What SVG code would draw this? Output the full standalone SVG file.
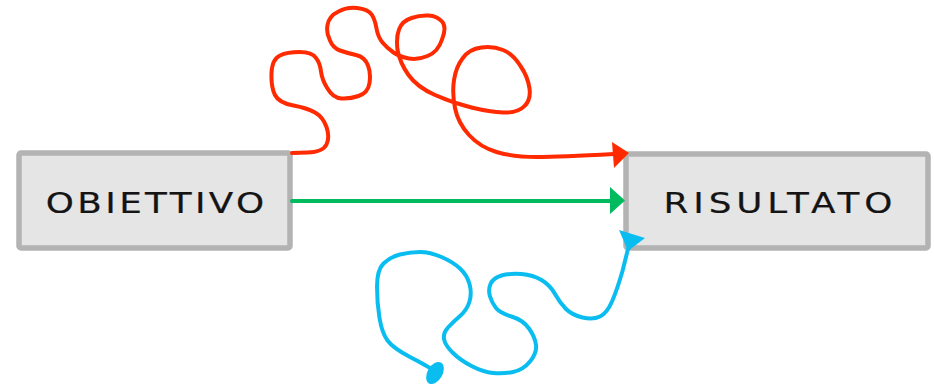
<svg xmlns="http://www.w3.org/2000/svg" width="934" height="386" viewBox="0 0 934 386">
<style>
.box{fill:#e5e5e5;stroke:#b3b3b3;stroke-width:5.5}
.lbl{font-family:"DejaVu Sans","Liberation Sans",sans-serif;font-size:27.5px;fill:#141414;stroke:#141414;stroke-width:0.2;text-anchor:middle}
.c{fill:none;stroke-width:4;stroke-linecap:round;stroke-linejoin:round}
</style>
<rect width="934" height="386" fill="#ffffff"/>
<g id="obiettivo">
<rect class="box" x="19" y="153" width="271" height="95" rx="2"/>
<text class="lbl" transform="translate(155,213) scale(1.3,1)" x="0" y="0" textLength="168" lengthAdjust="spacing">OBIETTIVO</text>
</g>
<g id="risultato">
<rect class="box" x="626" y="154" width="302" height="94" rx="2"/>
<text class="lbl" transform="translate(778,213) scale(1.3,1)" x="0" y="0" textLength="176" lengthAdjust="spacing">RISULTATO</text>
</g>
<g id="connectors">
<path class="c" stroke="#ff2a00" d="M292,153 L307.5,152.5 Q323,152 326.5,144.5 Q330,137 326.5,127 Q323,117 315,112.5 Q307,108 293.5,105.5 Q279,103 275,95 Q271,87 271.5,73.5 Q272,59 280,55.5 Q287,52 299.5,52 Q312,52 316,58 Q320,63 321,71.5 Q322,80 327.5,88.5 Q333,98 341.5,98.5 Q350,99 358.5,96 Q368,93 369.5,83 Q371,73 368,65.5 Q365,57 356,55 Q347,53 340,50.5 Q333,48 330,40.5 Q326,33 327.5,25 Q329,16 338.5,11.5 Q347,7 357,8 Q368,9 372,15 Q375,20 376.5,28.5 Q378,37 382.5,42.5 Q387,48 393.5,52.5 Q400,57 409,58.5 Q418,60 427.5,56 Q438,52 442,39.5 Q447,27 442,21.5 Q437,16 428.5,15.5 Q420,15 411.5,18 Q402,21 399,29.5 Q396,37 397.5,50 Q400,63 408.5,75 Q417,87 435,95 Q453,103 471.5,107.5 Q490,112 503.5,112.5 Q518,113 524.5,106 Q531,100 529.5,88.5 Q528,77 520.5,66 Q513,54 503,50 Q493,46 481.5,47.5 Q469,49 462.5,58.5 Q456,67 454,80 Q452,93 455,108 Q458,123 469,135 Q480,147 496.5,152 Q513,157 536.5,157 Q560,157 614,154"/>
<polygon fill="#ff2a00" points="612,142 629,153 614,168"/>
<line class="c" stroke="#00ba5e" stroke-width="3.5" x1="292" y1="201" x2="612" y2="201"/>
<polygon fill="#00ba5e" points="610,187 625,200.5 610,214"/>
<path class="c" stroke="#0abdf0" d="M433,370 L430,368 Q427,366 410,357 Q393,348 387.5,340.5 Q382,333 379.5,318 Q377,303 377,286.5 Q377,270 383.5,263.5 Q390,257 400,254.5 Q410,252 420,252 Q430,252 441.5,257 Q453,262 460,268.5 Q467,275 469.5,284 Q472,293 469.5,301.5 Q467,310 460,316 Q453,322 448,327.5 Q443,333 444,339 Q445,345 452.5,352.5 Q460,360 471.5,366 Q483,372 493,373 Q503,374 513,372 Q523,370 530,361.5 Q537,353 536,345 Q535,337 529,328.5 Q523,320 511.5,316.5 Q500,313 496,308 Q492,303 490,296.5 Q488,290 490.5,284 Q493,278 501.5,275.5 Q510,273 521.5,274 Q533,275 541.5,280 Q550,285 555,294 Q560,303 566,309 Q572,315 582.5,317.5 Q593,320 600,316.5 Q607,313 612,301.5 Q617,290 622.5,271 L628,249"/>
<polygon fill="#0abdf0" points="619,230 645,238 628,251"/>
<ellipse fill="#0abdf0" cx="435" cy="373" rx="7.5" ry="12" transform="rotate(30 435 373)"/>
</g>
</svg>
